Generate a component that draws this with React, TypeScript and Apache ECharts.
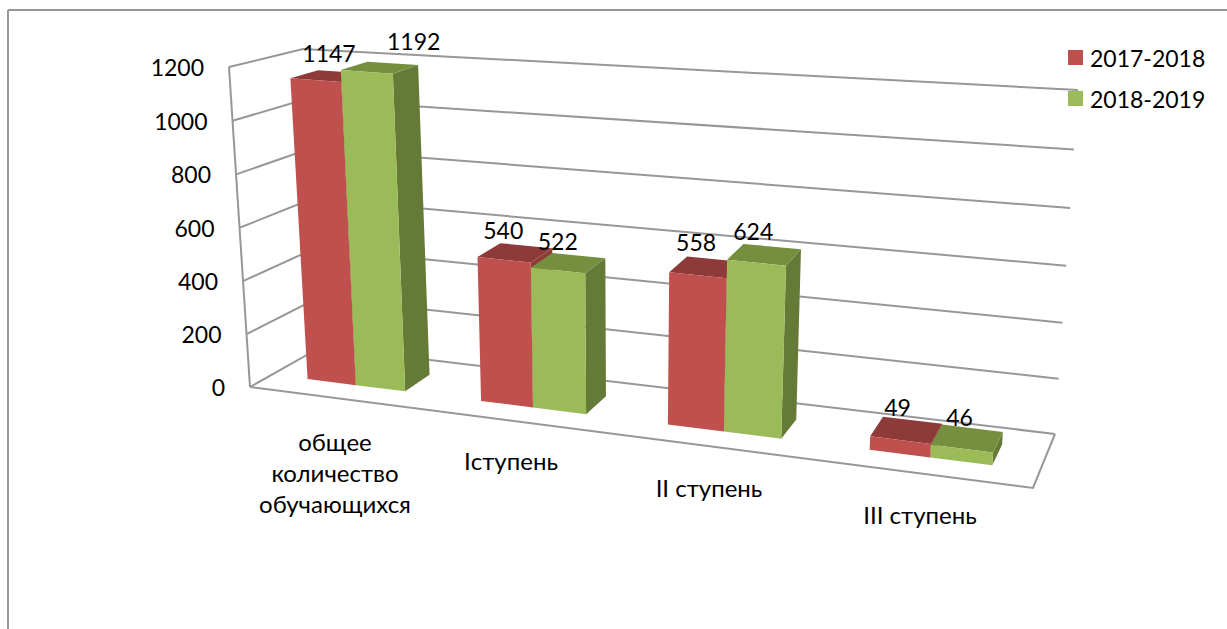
import React, { useEffect, useRef } from "react";
import * as echarts from "echarts";

const categories = ["общее\nколичество\nобучающихся", "Iступень", "II ступень", "III ступень"];
const series2017 = [1147, 540, 558, 49];
const series2018 = [1192, 522, 624, 46];
const yTicks = [0, 200, 400, 600, 800, 1000, 1200];
const seriesNames = ["2017-2018", "2018-2019"];

// Perspective box corners on screen: [x, y]
const FLB = [250, 387], FLT = [229, 67];
const BLB = [321, 347], BLT = [303, 49];
const BRB = [1055, 434], BRT = [1078, 90];
const FRB = [1033, 488], FRT = [1058, 134];
const R_U = 1.165;
const D0 = 0.31, D1 = 0.7;
const BAR_W = 0.25 / 3.5;
const GRID = { left: 0, top: 0, width: 1000, height: 500 };
const FONT = "Lato, 'Open Sans', sans-serif";
const LABEL_SIZE = 23;
const GRAY = "#979797";

const catLabelPos = [[335, 472], [511, 460], [709, 487], [920, 514]];
const labelNudge = [
  [[-14, -19], [21, -22]],
  [[-23, -16], [-21, -15]],
  [[-19, -17], [-19, -16]],
  [[-15, -13], [-13, -11]],
];

const lerp = (a: number, b: number, t: number) => a + (b - a) * t;
const lerp2 = (a: number[], b: number[], t: number) => [lerp(a[0], b[0], t), lerp(a[1], b[1], t)];
const tU = (u: number) => u / (u + R_U * (1 - u));
const tH = (h: number, u: number) => {
  const r = 1.01 + 0.035 * u;
  return h / (h + r * (1 - h));
};
function project(u: number, d: number, h: number) {
  const t = tU(u);
  const bot = lerp2(lerp2(FLB, FRB, t), lerp2(BLB, BRB, t), d);
  const top = lerp2(lerp2(FLT, FRT, t), lerp2(BLT, BRT, t), d);
  return lerp2(bot, top, tH(h, u));
}

const uOf = (px: number) => (px - GRID.left) / GRID.width;
const hOf = (py: number) => 1 - (py - GRID.top) / GRID.height;

function barRender(seriesIdx: number, faces: { front: string; top: string; side: string }) {
  return (_p: any, api: any) => {
    const cat = api.value(0);
    const val = api.value(1);
    const c = api.coord([cat, val]);
    const uc = uOf(c[0]);
    const h = hOf(c[1]);
    const u0 = uc + (seriesIdx - 1) * BAR_W;
    const u1 = u0 + BAR_W;
    const a = project(u0, D0, 0), b = project(u1, D0, 0), e = project(u1, D1, 0);
    const at = project(u0, D0, h), bt = project(u1, D0, h), et = project(u1, D1, h), ft = project(u0, D1, h);
    const n = labelNudge[cat][seriesIdx];
    const mid = lerp2(ft, et, 0.5);
    return {
      type: "group",
      children: [
        { type: "polygon", shape: { points: [b, e, et, bt] }, style: { fill: faces.side } },
        { type: "polygon", shape: { points: [at, bt, et, ft] }, style: { fill: faces.top } },
        { type: "polygon", shape: { points: [a, b, bt, at] }, style: { fill: faces.front } },
        {
          type: "text",
          style: {
            text: String(val), x: mid[0] + n[0], y: mid[1] + n[1], align: "center", verticalAlign: "middle",
            fontSize: LABEL_SIZE, fontFamily: FONT, fill: "#000",
          },
          z2: 100,
        },
      ],
    };
  };
}

function wallRender(_p: any, api: any) {
  const val = api.value(1);
  const c = api.coord([0, val]);
  const h = hOf(c[1]);
  const p0 = project(0, 0, h), p1 = project(0, 1, h), p2 = project(1, 1, h);
  const children: any[] = [
    { type: "polyline", shape: { points: [p0, p1, p2] }, style: { stroke: GRAY, lineWidth: 2, fill: "none" } },
    {
      type: "text",
      style: {
        text: String(val), x: p0[0] - 25, y: p0[1], align: "right", verticalAlign: "middle",
        fontSize: LABEL_SIZE, fontFamily: FONT, fill: "#000",
      },
    },
  ];
  if (val === 0) {
    children.push({
      type: "polyline",
      shape: { points: [project(0, 0, 0), project(1, 0, 0), project(1, 1, 0)] },
      style: { stroke: GRAY, lineWidth: 2, fill: "none" },
    });
    children.push({
      type: "polyline",
      shape: { points: [project(0, 0, 0), project(0, 0, 1)] },
      style: { stroke: GRAY, lineWidth: 2, fill: "none" },
    });
  }
  return { type: "group", children };
}

function catRender(_p: any, api: any) {
  const i = api.value(0);
  const pos = catLabelPos[i];
  return {
    type: "text",
    style: {
      text: categories[i], x: pos[0], y: pos[1], align: "center", verticalAlign: "middle",
      fontSize: 24, lineHeight: 31, fontFamily: FONT, fill: "#000",
    },
  };
}

export default function App() {
  const ref = useRef<HTMLDivElement>(null);
  useEffect(() => {
    const chart = echarts.init(ref.current!, undefined, { renderer: "svg" });
    chart.setOption({
      animation: false,
      backgroundColor: "#fff",
      grid: { ...GRID, containLabel: false },
      xAxis: { type: "category", data: categories, show: false },
      yAxis: { type: "value", min: 0, max: 1200, interval: 200, show: false },
      legend: {
        orient: "vertical", left: 1063, top: 41, padding: 5, itemWidth: 15, itemHeight: 15, itemGap: 18,
        icon: "rect", data: seriesNames,
        textStyle: { fontFamily: FONT, fontSize: LABEL_SIZE, color: "#000", padding: [0, 0, 0, 2] },
        selectedMode: false,
      },
      graphic: [
        { type: "line", shape: { x1: 8, y1: 10, x2: 1227, y2: 10 }, style: { stroke: GRAY, lineWidth: 2 } },
        { type: "line", shape: { x1: 8, y1: 10, x2: 8, y2: 629 }, style: { stroke: GRAY, lineWidth: 2 } },
      ],
      series: [
        {
          type: "custom", name: "walls", silent: true, z: 1, renderItem: wallRender,
          data: yTicks.map((t) => [0, t]), encode: { x: 0, y: 1 },
        },
        {
          type: "custom", name: "cats", silent: true, z: 1, renderItem: catRender,
          data: categories.map((_c, i) => [i, 0]), encode: { x: 0, y: 1 },
        },
        {
          type: "custom", name: seriesNames[0], silent: true, z: 2, itemStyle: { color: "#C0504D" },
          renderItem: barRender(0, { front: "#C0504D", top: "#8E3A38", side: "#8E3A38" }),
          data: series2017.map((v, i) => [i, v]), encode: { x: 0, y: 1 },
        },
        {
          type: "custom", name: seriesNames[1], silent: true, z: 3, itemStyle: { color: "#9BBB59" },
          renderItem: barRender(1, { front: "#9BBB59", top: "#758F3F", side: "#667A38" }),
          data: series2018.map((v, i) => [i, v]), encode: { x: 0, y: 1 },
        },
      ],
    });
    return () => chart.dispose();
  }, []);
  return <div ref={ref} style={{ position: "absolute", left: 0, top: 0, width: 1227, height: 629 }} />;
}
